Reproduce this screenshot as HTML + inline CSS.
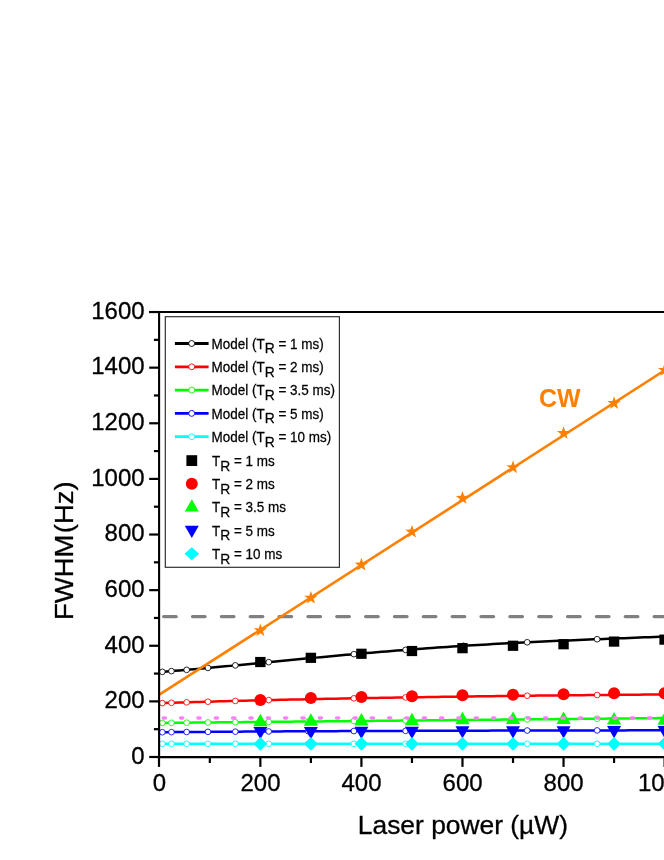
<!DOCTYPE html>
<html><head><meta charset="utf-8"><title>FWHM vs Laser power</title>
<style>html,body{margin:0;padding:0;background:#fff;}body{width:664px;height:860px;overflow:hidden;font-family:"Liberation Sans",sans-serif;}svg{display:block;will-change:transform;}text{font-family:"Liberation Sans",sans-serif;}.b{stroke:#000;stroke-width:0.3px;}</style></head><body>

<svg width="664" height="860" viewBox="0 0 664 860">
<rect x="0" y="0" width="664" height="860" fill="#fff"/>
<polyline points="159.30,672.09 164.35,671.69 169.41,671.29 174.46,670.87 179.51,670.45 184.56,670.02 189.62,669.58 194.67,669.13 199.72,668.68 204.78,668.23 209.83,667.76 214.88,667.30 219.94,666.83 224.99,666.35 230.04,665.87 235.10,665.39 240.15,664.91 245.20,664.42 250.25,663.94 255.31,663.45 260.36,662.96 265.41,662.47 270.47,661.98 275.52,661.49 280.57,661.00 285.62,660.51 290.68,660.03 295.73,659.54 300.78,659.06 305.84,658.58 310.89,658.10 315.94,657.63 321.00,657.15 326.05,656.68 331.10,656.22 336.15,655.76 341.21,655.30 346.26,654.85 351.31,654.40 356.37,653.95 361.42,653.51 366.47,653.08 371.53,652.65 376.58,652.22 381.63,651.80 386.69,651.39 391.74,650.98 396.79,650.58 401.84,650.18 406.90,649.79 411.95,649.41 417.00,649.03 422.06,648.66 427.11,648.29 432.16,647.93 437.21,647.58 442.27,647.23 447.32,646.89 452.37,646.55 457.43,646.23 462.48,645.90 467.53,645.59 472.59,645.28 477.64,644.97 482.69,644.68 487.75,644.38 492.80,644.10 497.85,643.82 502.90,643.54 507.96,643.27 513.01,643.01 518.06,642.75 523.12,642.49 528.17,642.25 533.22,642.00 538.27,641.76 543.33,641.53 548.38,641.30 553.43,641.07 558.49,640.84 563.54,640.62 568.59,640.41 573.65,640.19 578.70,639.98 583.75,639.77 588.81,639.57 593.86,639.36 598.91,639.16 603.96,638.96 609.02,638.76 614.07,638.55 619.12,638.35 624.18,638.15 629.23,637.95 634.28,637.75 639.34,637.55 644.39,637.34 649.44,637.13 654.49,636.92 659.55,636.71 664.60,636.49 669.65,636.27" fill="none" stroke="#000000" stroke-width="2.5"/>
<circle cx="162.34" cy="671.85" r="2.85" fill="#fff" stroke="#000000" stroke-width="0.85"/>
<circle cx="171.46" cy="671.12" r="2.85" fill="#fff" stroke="#000000" stroke-width="0.85"/>
<circle cx="186.66" cy="669.84" r="2.85" fill="#fff" stroke="#000000" stroke-width="0.85"/>
<circle cx="207.95" cy="667.94" r="2.85" fill="#fff" stroke="#000000" stroke-width="0.85"/>
<circle cx="235.31" cy="665.37" r="2.85" fill="#fff" stroke="#000000" stroke-width="0.85"/>
<circle cx="268.75" cy="662.15" r="2.85" fill="#fff" stroke="#000000" stroke-width="0.85"/>
<circle cx="308.28" cy="658.35" r="2.85" fill="#fff" stroke="#000000" stroke-width="0.85"/>
<circle cx="353.88" cy="654.17" r="2.85" fill="#fff" stroke="#000000" stroke-width="0.85"/>
<circle cx="405.57" cy="649.89" r="2.85" fill="#fff" stroke="#000000" stroke-width="0.85"/>
<circle cx="463.34" cy="645.85" r="2.85" fill="#fff" stroke="#000000" stroke-width="0.85"/>
<circle cx="527.19" cy="642.29" r="2.85" fill="#fff" stroke="#000000" stroke-width="0.85"/>
<circle cx="597.12" cy="639.23" r="2.85" fill="#fff" stroke="#000000" stroke-width="0.85"/>
<circle cx="673.13" cy="636.12" r="2.85" fill="#fff" stroke="#000000" stroke-width="0.85"/>
<polyline points="159.30,703.19 164.35,703.02 169.41,702.86 174.46,702.70 179.51,702.55 184.56,702.39 189.62,702.24 194.67,702.09 199.72,701.94 204.78,701.80 209.83,701.65 214.88,701.51 219.94,701.37 224.99,701.24 230.04,701.10 235.10,700.97 240.15,700.84 245.20,700.71 250.25,700.58 255.31,700.45 260.36,700.33 265.41,700.20 270.47,700.08 275.52,699.96 280.57,699.85 285.62,699.73 290.68,699.62 295.73,699.50 300.78,699.39 305.84,699.28 310.89,699.17 315.94,699.07 321.00,698.96 326.05,698.86 331.10,698.76 336.15,698.66 341.21,698.56 346.26,698.46 351.31,698.36 356.37,698.27 361.42,698.18 366.47,698.08 371.53,697.99 376.58,697.90 381.63,697.81 386.69,697.73 391.74,697.64 396.79,697.56 401.84,697.47 406.90,697.39 411.95,697.31 417.00,697.23 422.06,697.15 427.11,697.07 432.16,697.00 437.21,696.92 442.27,696.85 447.32,696.77 452.37,696.70 457.43,696.63 462.48,696.56 467.53,696.49 472.59,696.42 477.64,696.36 482.69,696.29 487.75,696.22 492.80,696.16 497.85,696.10 502.90,696.03 507.96,695.97 513.01,695.91 518.06,695.85 523.12,695.79 528.17,695.73 533.22,695.67 538.27,695.62 543.33,695.56 548.38,695.51 553.43,695.45 558.49,695.40 563.54,695.35 568.59,695.29 573.65,695.24 578.70,695.19 583.75,695.14 588.81,695.09 593.86,695.04 598.91,695.00 603.96,694.95 609.02,694.90 614.07,694.86 619.12,694.81 624.18,694.77 629.23,694.72 634.28,694.68 639.34,694.64 644.39,694.60 649.44,694.55 654.49,694.51 659.55,694.47 664.60,694.43 669.65,694.39" fill="none" stroke="#ff0000" stroke-width="2.5"/>
<circle cx="162.34" cy="703.09" r="2.85" fill="#fff" stroke="#ff0000" stroke-width="0.85"/>
<circle cx="171.46" cy="702.80" r="2.85" fill="#fff" stroke="#ff0000" stroke-width="0.85"/>
<circle cx="186.66" cy="702.33" r="2.85" fill="#fff" stroke="#ff0000" stroke-width="0.85"/>
<circle cx="207.95" cy="701.71" r="2.85" fill="#fff" stroke="#ff0000" stroke-width="0.85"/>
<circle cx="235.31" cy="700.96" r="2.85" fill="#fff" stroke="#ff0000" stroke-width="0.85"/>
<circle cx="268.75" cy="700.12" r="2.85" fill="#fff" stroke="#ff0000" stroke-width="0.85"/>
<circle cx="308.28" cy="699.23" r="2.85" fill="#fff" stroke="#ff0000" stroke-width="0.85"/>
<circle cx="353.88" cy="698.32" r="2.85" fill="#fff" stroke="#ff0000" stroke-width="0.85"/>
<circle cx="405.57" cy="697.41" r="2.85" fill="#fff" stroke="#ff0000" stroke-width="0.85"/>
<circle cx="463.34" cy="696.55" r="2.85" fill="#fff" stroke="#ff0000" stroke-width="0.85"/>
<circle cx="527.19" cy="695.74" r="2.85" fill="#fff" stroke="#ff0000" stroke-width="0.85"/>
<circle cx="597.12" cy="695.01" r="2.85" fill="#fff" stroke="#ff0000" stroke-width="0.85"/>
<circle cx="673.13" cy="694.37" r="2.85" fill="#fff" stroke="#ff0000" stroke-width="0.85"/>
<polyline points="159.30,722.93 164.35,722.88 169.41,722.84 174.46,722.79 179.51,722.74 184.56,722.69 189.62,722.64 194.67,722.59 199.72,722.54 204.78,722.49 209.83,722.45 214.88,722.40 219.94,722.35 224.99,722.30 230.04,722.25 235.10,722.20 240.15,722.15 245.20,722.11 250.25,722.06 255.31,722.01 260.36,721.96 265.41,721.91 270.47,721.86 275.52,721.81 280.57,721.76 285.62,721.72 290.68,721.67 295.73,721.62 300.78,721.57 305.84,721.52 310.89,721.47 315.94,721.42 321.00,721.38 326.05,721.33 331.10,721.28 336.15,721.23 341.21,721.18 346.26,721.13 351.31,721.08 356.37,721.03 361.42,720.99 366.47,720.94 371.53,720.89 376.58,720.84 381.63,720.79 386.69,720.74 391.74,720.69 396.79,720.65 401.84,720.60 406.90,720.55 411.95,720.50 417.00,720.45 422.06,720.40 427.11,720.35 432.16,720.30 437.21,720.26 442.27,720.21 447.32,720.16 452.37,720.11 457.43,720.06 462.48,720.01 467.53,719.96 472.59,719.92 477.64,719.87 482.69,719.82 487.75,719.77 492.80,719.72 497.85,719.67 502.90,719.62 507.96,719.57 513.01,719.53 518.06,719.48 523.12,719.43 528.17,719.38 533.22,719.33 538.27,719.28 543.33,719.23 548.38,719.19 553.43,719.14 558.49,719.09 563.54,719.04 568.59,718.99 573.65,718.94 578.70,718.89 583.75,718.84 588.81,718.80 593.86,718.75 598.91,718.70 603.96,718.65 609.02,718.60 614.07,718.55 619.12,718.50 624.18,718.46 629.23,718.41 634.28,718.36 639.34,718.31 644.39,718.26 649.44,718.21 654.49,718.16 659.55,718.11 664.60,718.07 669.65,718.02" fill="none" stroke="#00ff00" stroke-width="2.5"/>
<circle cx="162.34" cy="722.90" r="2.85" fill="#fff" stroke="#00ff00" stroke-width="0.85"/>
<circle cx="171.46" cy="722.82" r="2.85" fill="#fff" stroke="#00ff00" stroke-width="0.85"/>
<circle cx="186.66" cy="722.67" r="2.85" fill="#fff" stroke="#00ff00" stroke-width="0.85"/>
<circle cx="207.95" cy="722.46" r="2.85" fill="#fff" stroke="#00ff00" stroke-width="0.85"/>
<circle cx="235.31" cy="722.20" r="2.85" fill="#fff" stroke="#00ff00" stroke-width="0.85"/>
<circle cx="268.75" cy="721.88" r="2.85" fill="#fff" stroke="#00ff00" stroke-width="0.85"/>
<circle cx="308.28" cy="721.50" r="2.85" fill="#fff" stroke="#00ff00" stroke-width="0.85"/>
<circle cx="353.88" cy="721.06" r="2.85" fill="#fff" stroke="#00ff00" stroke-width="0.85"/>
<circle cx="405.57" cy="720.56" r="2.85" fill="#fff" stroke="#00ff00" stroke-width="0.85"/>
<circle cx="463.34" cy="720.00" r="2.85" fill="#fff" stroke="#00ff00" stroke-width="0.85"/>
<circle cx="527.19" cy="719.39" r="2.85" fill="#fff" stroke="#00ff00" stroke-width="0.85"/>
<circle cx="597.12" cy="718.72" r="2.85" fill="#fff" stroke="#00ff00" stroke-width="0.85"/>
<circle cx="673.13" cy="717.98" r="2.85" fill="#fff" stroke="#00ff00" stroke-width="0.85"/>
<polyline points="159.30,732.25 164.35,732.21 169.41,732.16 174.46,732.12 179.51,732.08 184.56,732.04 189.62,732.00 194.67,731.96 199.72,731.92 204.78,731.88 209.83,731.85 214.88,731.81 219.94,731.77 224.99,731.74 230.04,731.71 235.10,731.67 240.15,731.64 245.20,731.61 250.25,731.58 255.31,731.55 260.36,731.52 265.41,731.49 270.47,731.46 275.52,731.43 280.57,731.40 285.62,731.37 290.68,731.35 295.73,731.32 300.78,731.30 305.84,731.27 310.89,731.25 315.94,731.22 321.00,731.20 326.05,731.17 331.10,731.15 336.15,731.13 341.21,731.11 346.26,731.09 351.31,731.06 356.37,731.04 361.42,731.02 366.47,731.00 371.53,730.98 376.58,730.97 381.63,730.95 386.69,730.93 391.74,730.91 396.79,730.89 401.84,730.88 406.90,730.86 411.95,730.84 417.00,730.83 422.06,730.81 427.11,730.80 432.16,730.78 437.21,730.76 442.27,730.75 447.32,730.74 452.37,730.72 457.43,730.71 462.48,730.69 467.53,730.68 472.59,730.67 477.64,730.66 482.69,730.64 487.75,730.63 492.80,730.62 497.85,730.61 502.90,730.60 507.96,730.58 513.01,730.57 518.06,730.56 523.12,730.55 528.17,730.54 533.22,730.53 538.27,730.52 543.33,730.51 548.38,730.50 553.43,730.49 558.49,730.48 563.54,730.47 568.59,730.46 573.65,730.46 578.70,730.45 583.75,730.44 588.81,730.43 593.86,730.42 598.91,730.41 603.96,730.41 609.02,730.40 614.07,730.39 619.12,730.38 624.18,730.38 629.23,730.37 634.28,730.36 639.34,730.36 644.39,730.35 649.44,730.34 654.49,730.34 659.55,730.33 664.60,730.33 669.65,730.32" fill="none" stroke="#0000ff" stroke-width="2.5"/>
<circle cx="162.34" cy="732.22" r="2.85" fill="#fff" stroke="#0000ff" stroke-width="0.85"/>
<circle cx="171.46" cy="732.14" r="2.85" fill="#fff" stroke="#0000ff" stroke-width="0.85"/>
<circle cx="186.66" cy="732.02" r="2.85" fill="#fff" stroke="#0000ff" stroke-width="0.85"/>
<circle cx="207.95" cy="731.86" r="2.85" fill="#fff" stroke="#0000ff" stroke-width="0.85"/>
<circle cx="235.31" cy="731.67" r="2.85" fill="#fff" stroke="#0000ff" stroke-width="0.85"/>
<circle cx="268.75" cy="731.47" r="2.85" fill="#fff" stroke="#0000ff" stroke-width="0.85"/>
<circle cx="308.28" cy="731.26" r="2.85" fill="#fff" stroke="#0000ff" stroke-width="0.85"/>
<circle cx="353.88" cy="731.05" r="2.85" fill="#fff" stroke="#0000ff" stroke-width="0.85"/>
<circle cx="405.57" cy="730.86" r="2.85" fill="#fff" stroke="#0000ff" stroke-width="0.85"/>
<circle cx="463.34" cy="730.69" r="2.85" fill="#fff" stroke="#0000ff" stroke-width="0.85"/>
<circle cx="527.19" cy="730.54" r="2.85" fill="#fff" stroke="#0000ff" stroke-width="0.85"/>
<circle cx="597.12" cy="730.42" r="2.85" fill="#fff" stroke="#0000ff" stroke-width="0.85"/>
<circle cx="673.13" cy="730.32" r="2.85" fill="#fff" stroke="#0000ff" stroke-width="0.85"/>
<polyline points="159.30,743.82 164.35,743.82 169.41,743.82 174.46,743.82 179.51,743.82 184.56,743.82 189.62,743.82 194.67,743.82 199.72,743.82 204.78,743.82 209.83,743.82 214.88,743.82 219.94,743.82 224.99,743.82 230.04,743.82 235.10,743.82 240.15,743.82 245.20,743.82 250.25,743.82 255.31,743.82 260.36,743.82 265.41,743.82 270.47,743.82 275.52,743.82 280.57,743.82 285.62,743.82 290.68,743.82 295.73,743.82 300.78,743.82 305.84,743.82 310.89,743.82 315.94,743.82 321.00,743.82 326.05,743.82 331.10,743.82 336.15,743.82 341.21,743.82 346.26,743.82 351.31,743.82 356.37,743.82 361.42,743.82 366.47,743.82 371.53,743.82 376.58,743.82 381.63,743.82 386.69,743.82 391.74,743.82 396.79,743.82 401.84,743.82 406.90,743.82 411.95,743.82 417.00,743.82 422.06,743.82 427.11,743.82 432.16,743.82 437.21,743.82 442.27,743.82 447.32,743.82 452.37,743.82 457.43,743.82 462.48,743.82 467.53,743.82 472.59,743.82 477.64,743.82 482.69,743.82 487.75,743.82 492.80,743.82 497.85,743.82 502.90,743.82 507.96,743.82 513.01,743.82 518.06,743.82 523.12,743.82 528.17,743.82 533.22,743.82 538.27,743.82 543.33,743.82 548.38,743.82 553.43,743.82 558.49,743.82 563.54,743.82 568.59,743.82 573.65,743.82 578.70,743.82 583.75,743.82 588.81,743.82 593.86,743.82 598.91,743.82 603.96,743.82 609.02,743.82 614.07,743.82 619.12,743.82 624.18,743.82 629.23,743.82 634.28,743.82 639.34,743.82 644.39,743.82 649.44,743.82 654.49,743.82 659.55,743.82 664.60,743.82 669.65,743.82" fill="none" stroke="#00ffff" stroke-width="2.5"/>
<circle cx="162.34" cy="743.82" r="2.85" fill="#fff" stroke="#00ffff" stroke-width="0.85"/>
<circle cx="171.46" cy="743.82" r="2.85" fill="#fff" stroke="#00ffff" stroke-width="0.85"/>
<circle cx="186.66" cy="743.82" r="2.85" fill="#fff" stroke="#00ffff" stroke-width="0.85"/>
<circle cx="207.95" cy="743.82" r="2.85" fill="#fff" stroke="#00ffff" stroke-width="0.85"/>
<circle cx="235.31" cy="743.82" r="2.85" fill="#fff" stroke="#00ffff" stroke-width="0.85"/>
<circle cx="268.75" cy="743.82" r="2.85" fill="#fff" stroke="#00ffff" stroke-width="0.85"/>
<circle cx="308.28" cy="743.82" r="2.85" fill="#fff" stroke="#00ffff" stroke-width="0.85"/>
<circle cx="353.88" cy="743.82" r="2.85" fill="#fff" stroke="#00ffff" stroke-width="0.85"/>
<circle cx="405.57" cy="743.82" r="2.85" fill="#fff" stroke="#00ffff" stroke-width="0.85"/>
<circle cx="463.34" cy="743.82" r="2.85" fill="#fff" stroke="#00ffff" stroke-width="0.85"/>
<circle cx="527.19" cy="743.82" r="2.85" fill="#fff" stroke="#00ffff" stroke-width="0.85"/>
<circle cx="597.12" cy="743.82" r="2.85" fill="#fff" stroke="#00ffff" stroke-width="0.85"/>
<circle cx="673.13" cy="743.82" r="2.85" fill="#fff" stroke="#00ffff" stroke-width="0.85"/>
<line x1="163.7" y1="616.6" x2="669" y2="616.6" stroke="#808080" stroke-width="3.4" stroke-linecap="round" stroke-dasharray="12.5 16.35"/>
<line x1="159.30" y1="694.71" x2="669.65" y2="367.20" stroke="#ff8000" stroke-width="2.6"/>
<polygon points="260.36,623.46 262.01,628.20 267.02,628.30 263.02,631.33 264.47,636.13 260.36,633.26 256.25,636.13 257.70,631.33 253.70,628.30 258.71,628.20" fill="#ff8000"/>
<polygon points="310.89,590.93 312.54,595.66 317.55,595.76 313.55,598.79 315.00,603.59 310.89,600.73 306.78,603.59 308.23,598.79 304.23,595.76 309.24,595.66" fill="#ff8000"/>
<polygon points="361.42,557.83 363.07,562.57 368.08,562.67 364.08,565.70 365.53,570.50 361.42,567.63 357.31,570.50 358.76,565.70 354.76,562.67 359.77,562.57" fill="#ff8000"/>
<polygon points="411.95,524.88 413.60,529.61 418.61,529.71 414.61,532.74 416.06,537.54 411.95,534.68 407.84,537.54 409.29,532.74 405.29,529.71 410.30,529.61" fill="#ff8000"/>
<polygon points="462.48,491.09 464.13,495.82 469.14,495.93 465.14,498.95 466.59,503.75 462.48,500.89 458.37,503.75 459.82,498.95 455.82,495.93 460.83,495.82" fill="#ff8000"/>
<polygon points="513.01,460.50 514.66,465.23 519.67,465.33 515.67,468.36 517.12,473.16 513.01,470.30 508.90,473.16 510.35,468.36 506.35,465.33 511.36,465.23" fill="#ff8000"/>
<polygon points="563.54,426.15 565.19,430.89 570.20,430.99 566.20,434.02 567.65,438.82 563.54,435.95 559.43,438.82 560.88,434.02 556.88,430.99 561.89,430.89" fill="#ff8000"/>
<polygon points="614.07,396.26 615.72,400.99 620.73,401.09 616.73,404.12 618.18,408.92 614.07,406.06 609.96,408.92 611.41,404.12 607.41,401.09 612.42,400.99" fill="#ff8000"/>
<polygon points="664.60,363.16 666.25,367.90 671.26,368.00 667.26,371.03 668.71,375.83 664.60,372.96 660.49,375.83 661.94,371.03 657.94,368.00 662.95,367.90" fill="#ff8000"/>
<rect x="255.16" y="656.93" width="10.4" height="10.2" fill="#000"/>
<rect x="305.69" y="652.73" width="10.4" height="10.2" fill="#000"/>
<rect x="356.22" y="648.67" width="10.4" height="10.2" fill="#000"/>
<rect x="406.75" y="645.92" width="10.4" height="10.2" fill="#000"/>
<rect x="457.28" y="643.08" width="10.4" height="10.2" fill="#000"/>
<rect x="507.81" y="640.66" width="10.4" height="10.2" fill="#000"/>
<rect x="558.34" y="639.13" width="10.4" height="10.2" fill="#000"/>
<rect x="608.87" y="636.49" width="10.4" height="10.2" fill="#000"/>
<rect x="659.40" y="634.54" width="10.4" height="10.2" fill="#000"/>
<circle cx="260.36" cy="699.91" r="6.0" fill="#ff0000"/>
<circle cx="310.89" cy="698.04" r="6.0" fill="#ff0000"/>
<circle cx="361.42" cy="696.93" r="6.0" fill="#ff0000"/>
<circle cx="411.95" cy="696.18" r="6.0" fill="#ff0000"/>
<circle cx="462.48" cy="695.18" r="6.0" fill="#ff0000"/>
<circle cx="513.01" cy="694.71" r="6.0" fill="#ff0000"/>
<circle cx="563.54" cy="694.15" r="6.0" fill="#ff0000"/>
<circle cx="614.07" cy="693.18" r="6.0" fill="#ff0000"/>
<circle cx="664.60" cy="693.32" r="6.0" fill="#ff0000"/>
<polygon points="260.36,713.70 267.46,726.20 253.26,726.20" fill="#00ff00"/>
<polygon points="310.89,713.20 317.99,725.70 303.79,725.70" fill="#00ff00"/>
<polygon points="361.42,712.90 368.52,725.40 354.32,725.40" fill="#00ff00"/>
<polygon points="411.95,712.70 419.05,725.20 404.85,725.20" fill="#00ff00"/>
<polygon points="462.48,711.80 469.58,724.30 455.38,724.30" fill="#00ff00"/>
<polygon points="513.01,711.60 520.11,724.10 505.91,724.10" fill="#00ff00"/>
<polygon points="563.54,711.60 570.64,724.10 556.44,724.10" fill="#00ff00"/>
<polygon points="614.07,711.90 621.17,724.40 606.97,724.40" fill="#00ff00"/>
<polygon points="664.60,712.20 671.70,724.70 657.50,724.70" fill="#00ff00"/>
<polygon points="253.36,727.00 267.36,727.00 260.36,739.30" fill="#0000ff"/>
<polygon points="303.89,726.90 317.89,726.90 310.89,739.20" fill="#0000ff"/>
<polygon points="354.42,726.80 368.42,726.80 361.42,739.10" fill="#0000ff"/>
<polygon points="404.95,726.70 418.95,726.70 411.95,739.00" fill="#0000ff"/>
<polygon points="455.48,726.30 469.48,726.30 462.48,738.60" fill="#0000ff"/>
<polygon points="506.01,726.20 520.01,726.20 513.01,738.50" fill="#0000ff"/>
<polygon points="556.54,726.20 570.54,726.20 563.54,738.50" fill="#0000ff"/>
<polygon points="607.07,726.00 621.07,726.00 614.07,738.30" fill="#0000ff"/>
<polygon points="657.60,726.00 671.60,726.00 664.60,738.30" fill="#0000ff"/>
<polygon points="260.36,736.90 267.16,743.80 260.36,750.70 253.56,743.80" fill="#00ffff"/>
<polygon points="310.89,736.90 317.69,743.80 310.89,750.70 304.09,743.80" fill="#00ffff"/>
<polygon points="361.42,736.90 368.22,743.80 361.42,750.70 354.62,743.80" fill="#00ffff"/>
<polygon points="411.95,736.90 418.75,743.80 411.95,750.70 405.15,743.80" fill="#00ffff"/>
<polygon points="462.48,736.90 469.28,743.80 462.48,750.70 455.68,743.80" fill="#00ffff"/>
<polygon points="513.01,736.90 519.81,743.80 513.01,750.70 506.21,743.80" fill="#00ffff"/>
<polygon points="563.54,736.90 570.34,743.80 563.54,750.70 556.74,743.80" fill="#00ffff"/>
<polygon points="614.07,736.90 620.87,743.80 614.07,750.70 607.27,743.80" fill="#00ffff"/>
<polygon points="664.60,736.90 671.40,743.80 664.60,750.70 657.80,743.80" fill="#00ffff"/>
<line x1="163.3" y1="717.9" x2="669" y2="717.9" stroke="#ff80ff" stroke-width="3.5" stroke-linecap="round" stroke-dasharray="2.1 15.235"/>
<line x1="159.1" y1="311" x2="159.1" y2="758" stroke="#000" stroke-width="2.1"/>
<line x1="158" y1="757.1" x2="664" y2="757.1" stroke="#000" stroke-width="2.2"/>
<line x1="149.2" y1="311.9" x2="664" y2="311.9" stroke="#000" stroke-width="2.05"/>
<line x1="149.2" y1="757.00" x2="159" y2="757.00" stroke="#000" stroke-width="2.2"/>
<line x1="153.9" y1="729.19" x2="159" y2="729.19" stroke="#000" stroke-width="2.2"/>
<line x1="149.2" y1="701.38" x2="159" y2="701.38" stroke="#000" stroke-width="2.2"/>
<line x1="153.9" y1="673.57" x2="159" y2="673.57" stroke="#000" stroke-width="2.2"/>
<line x1="149.2" y1="645.76" x2="159" y2="645.76" stroke="#000" stroke-width="2.2"/>
<line x1="153.9" y1="617.95" x2="159" y2="617.95" stroke="#000" stroke-width="2.2"/>
<line x1="149.2" y1="590.14" x2="159" y2="590.14" stroke="#000" stroke-width="2.2"/>
<line x1="153.9" y1="562.33" x2="159" y2="562.33" stroke="#000" stroke-width="2.2"/>
<line x1="149.2" y1="534.52" x2="159" y2="534.52" stroke="#000" stroke-width="2.2"/>
<line x1="153.9" y1="506.71" x2="159" y2="506.71" stroke="#000" stroke-width="2.2"/>
<line x1="149.2" y1="478.90" x2="159" y2="478.90" stroke="#000" stroke-width="2.2"/>
<line x1="153.9" y1="451.09" x2="159" y2="451.09" stroke="#000" stroke-width="2.2"/>
<line x1="149.2" y1="423.28" x2="159" y2="423.28" stroke="#000" stroke-width="2.2"/>
<line x1="153.9" y1="395.47" x2="159" y2="395.47" stroke="#000" stroke-width="2.2"/>
<line x1="149.2" y1="367.66" x2="159" y2="367.66" stroke="#000" stroke-width="2.2"/>
<line x1="153.9" y1="339.85" x2="159" y2="339.85" stroke="#000" stroke-width="2.2"/>
<line x1="149.2" y1="312.04" x2="159" y2="312.04" stroke="#000" stroke-width="2.2"/>
<line x1="159.00" y1="757" x2="159.00" y2="766.9" stroke="#000" stroke-width="2.2"/>
<line x1="209.83" y1="757" x2="209.83" y2="763.0" stroke="#000" stroke-width="2.2"/>
<line x1="260.36" y1="757" x2="260.36" y2="766.9" stroke="#000" stroke-width="2.2"/>
<line x1="310.89" y1="757" x2="310.89" y2="763.0" stroke="#000" stroke-width="2.2"/>
<line x1="361.42" y1="757" x2="361.42" y2="766.9" stroke="#000" stroke-width="2.2"/>
<line x1="411.95" y1="757" x2="411.95" y2="763.0" stroke="#000" stroke-width="2.2"/>
<line x1="462.48" y1="757" x2="462.48" y2="766.9" stroke="#000" stroke-width="2.2"/>
<line x1="513.01" y1="757" x2="513.01" y2="763.0" stroke="#000" stroke-width="2.2"/>
<line x1="563.54" y1="757" x2="563.54" y2="766.9" stroke="#000" stroke-width="2.2"/>
<line x1="614.07" y1="757" x2="614.07" y2="763.0" stroke="#000" stroke-width="2.2"/>
<line x1="664.60" y1="757" x2="664.60" y2="766.9" stroke="#000" stroke-width="2.2"/>
<text x="131.25" y="763.80" font-size="24.6" textLength="13.35" lengthAdjust="spacingAndGlyphs" fill="#000" class="b">0</text>
<text x="104.55" y="708.18" font-size="24.6" textLength="40.05" lengthAdjust="spacingAndGlyphs" fill="#000" class="b">200</text>
<text x="104.55" y="652.56" font-size="24.6" textLength="40.05" lengthAdjust="spacingAndGlyphs" fill="#000" class="b">400</text>
<text x="104.55" y="596.94" font-size="24.6" textLength="40.05" lengthAdjust="spacingAndGlyphs" fill="#000" class="b">600</text>
<text x="104.55" y="541.32" font-size="24.6" textLength="40.05" lengthAdjust="spacingAndGlyphs" fill="#000" class="b">800</text>
<text x="91.20" y="485.70" font-size="24.6" textLength="53.40" lengthAdjust="spacingAndGlyphs" fill="#000" class="b">1000</text>
<text x="91.20" y="430.08" font-size="24.6" textLength="53.40" lengthAdjust="spacingAndGlyphs" fill="#000" class="b">1200</text>
<text x="91.20" y="374.46" font-size="24.6" textLength="53.40" lengthAdjust="spacingAndGlyphs" fill="#000" class="b">1400</text>
<text x="91.20" y="318.84" font-size="24.6" textLength="53.40" lengthAdjust="spacingAndGlyphs" fill="#000" class="b">1600</text>
<text x="152.72" y="791.1" font-size="24.6" textLength="13.35" lengthAdjust="spacingAndGlyphs" fill="#000" class="b">0</text>
<text x="240.44" y="791.1" font-size="24.6" textLength="40.05" lengthAdjust="spacingAndGlyphs" fill="#000" class="b">200</text>
<text x="341.50" y="791.1" font-size="24.6" textLength="40.05" lengthAdjust="spacingAndGlyphs" fill="#000" class="b">400</text>
<text x="442.56" y="791.1" font-size="24.6" textLength="40.05" lengthAdjust="spacingAndGlyphs" fill="#000" class="b">600</text>
<text x="543.62" y="791.1" font-size="24.6" textLength="40.05" lengthAdjust="spacingAndGlyphs" fill="#000" class="b">800</text>
<text x="638.00" y="791.1" font-size="24.6" textLength="53.40" lengthAdjust="spacingAndGlyphs" fill="#000" class="b">1000</text>
<text x="357.8" y="833.6" font-size="26" textLength="210.2" lengthAdjust="spacingAndGlyphs" fill="#000" class="b">Laser power (&#181;W)</text>
<text transform="translate(73.4,620.1) rotate(-90) scale(1.05,1)" font-size="26.2" word-spacing="-6" fill="#000" class="b">FWHM (Hz)</text>
<text x="539" y="407.2" font-size="26.2" font-weight="bold" textLength="41.6" lengthAdjust="spacingAndGlyphs" fill="#ff8000">CW</text>
<rect x="165.3" y="316.7" width="174.1" height="250.6" fill="#fff" stroke="#2a2a2a" stroke-width="1.15"/>
<line x1="174.9" y1="343.50" x2="208.6" y2="343.50" stroke="#000000" stroke-width="2.8"/>
<circle cx="191.7" cy="343.50" r="2.95" fill="#fff" stroke="#000000" stroke-width="0.9"/>
<text x="211.6" y="348.70" font-size="14.2" fill="#000" stroke="#000" stroke-width="0.25" transform="translate(211.6,0) scale(0.95,1) translate(-211.6,0)">Model (T<tspan dy="4.8" font-size="14.6">R</tspan><tspan dy="-4.8"> = 1 ms)</tspan></text>
<line x1="174.9" y1="366.80" x2="208.6" y2="366.80" stroke="#ff0000" stroke-width="2.8"/>
<circle cx="191.7" cy="366.80" r="2.95" fill="#fff" stroke="#ff0000" stroke-width="0.9"/>
<text x="211.6" y="372.00" font-size="14.2" fill="#000" stroke="#000" stroke-width="0.25" transform="translate(211.6,0) scale(0.95,1) translate(-211.6,0)">Model (T<tspan dy="4.8" font-size="14.6">R</tspan><tspan dy="-4.8"> = 2 ms)</tspan></text>
<line x1="174.9" y1="390.10" x2="208.6" y2="390.10" stroke="#00ff00" stroke-width="2.8"/>
<circle cx="191.7" cy="390.10" r="2.95" fill="#fff" stroke="#00ff00" stroke-width="0.9"/>
<text x="211.6" y="395.30" font-size="14.2" fill="#000" stroke="#000" stroke-width="0.25" transform="translate(211.6,0) scale(0.95,1) translate(-211.6,0)">Model (T<tspan dy="4.8" font-size="14.6">R</tspan><tspan dy="-4.8"> = 3.5 ms)</tspan></text>
<line x1="174.9" y1="413.40" x2="208.6" y2="413.40" stroke="#0000ff" stroke-width="2.8"/>
<circle cx="191.7" cy="413.40" r="2.95" fill="#fff" stroke="#0000ff" stroke-width="0.9"/>
<text x="211.6" y="418.60" font-size="14.2" fill="#000" stroke="#000" stroke-width="0.25" transform="translate(211.6,0) scale(0.95,1) translate(-211.6,0)">Model (T<tspan dy="4.8" font-size="14.6">R</tspan><tspan dy="-4.8"> = 5 ms)</tspan></text>
<line x1="174.9" y1="436.70" x2="208.6" y2="436.70" stroke="#00ffff" stroke-width="2.8"/>
<circle cx="191.7" cy="436.70" r="2.95" fill="#fff" stroke="#00ffff" stroke-width="0.9"/>
<text x="211.6" y="441.90" font-size="14.2" fill="#000" stroke="#000" stroke-width="0.25" transform="translate(211.6,0) scale(0.95,1) translate(-211.6,0)">Model (T<tspan dy="4.8" font-size="14.6">R</tspan><tspan dy="-4.8"> = 10 ms)</tspan></text>
<rect x="186.40" y="455.20" width="10.8" height="10.8" fill="#000"/>
<circle cx="191.8" cy="483.85" r="6" fill="#ff0000"/>
<polygon points="191.8,499.20 198.8,511.50 184.8,511.50" fill="#00ff00"/>
<polygon points="184.8,525.80 198.8,525.80 191.8,538.10" fill="#0000ff"/>
<polygon points="191.8,547.20 199.10000000000002,553.70 191.8,560.20 184.5,553.70" fill="#00ffff"/>
<text x="212" y="465.80" font-size="14.2" fill="#000" stroke="#000" stroke-width="0.25" transform="translate(212,0) scale(0.95,1) translate(-212,0)">T<tspan dy="4.8" font-size="14.6">R</tspan><tspan dy="-4.8"> = 1 ms</tspan></text>
<text x="212" y="489.05" font-size="14.2" fill="#000" stroke="#000" stroke-width="0.25" transform="translate(212,0) scale(0.95,1) translate(-212,0)">T<tspan dy="4.8" font-size="14.6">R</tspan><tspan dy="-4.8"> = 2 ms</tspan></text>
<text x="212" y="512.30" font-size="14.2" fill="#000" stroke="#000" stroke-width="0.25" transform="translate(212,0) scale(0.95,1) translate(-212,0)">T<tspan dy="4.8" font-size="14.6">R</tspan><tspan dy="-4.8"> = 3.5 ms</tspan></text>
<text x="212" y="535.55" font-size="14.2" fill="#000" stroke="#000" stroke-width="0.25" transform="translate(212,0) scale(0.95,1) translate(-212,0)">T<tspan dy="4.8" font-size="14.6">R</tspan><tspan dy="-4.8"> = 5 ms</tspan></text>
<text x="212" y="558.80" font-size="14.2" fill="#000" stroke="#000" stroke-width="0.25" transform="translate(212,0) scale(0.95,1) translate(-212,0)">T<tspan dy="4.8" font-size="14.6">R</tspan><tspan dy="-4.8"> = 10 ms</tspan></text>
</svg></body></html>
